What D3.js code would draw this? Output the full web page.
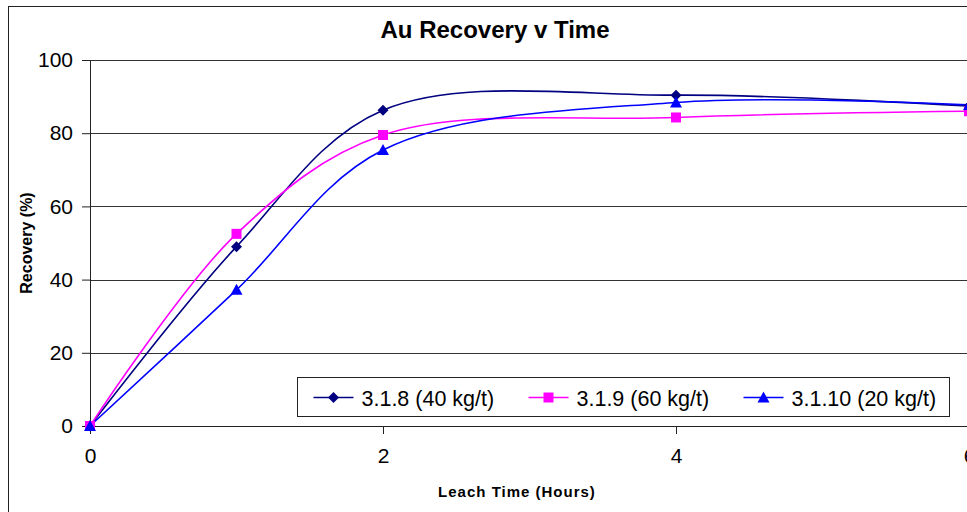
<!DOCTYPE html>
<html>
<head>
<meta charset="utf-8">
<script src="https://cdn.jsdelivr.net/npm/d3@7"></script>
<style>
  body { margin: 0; background: #fff; }
  svg { display: block; font-family: "Liberation Sans", Arial, sans-serif; }
</style>
</head>
<body>
<svg width="967" height="512"></svg>
<script>
// Leach time (hours)
var hours = [0, 1, 2, 4, 6];

// Recovery (%) per test
var rec318 = [0, 49, 86.3, 90.4, 87.4];
var rec319 = [0, 52.5, 79.5, 84.3, 86];
var rec3110 = [0, 37.2, 75.4, 88.4, 87.7];

var seriesNames = ["3.1.8 (40 kg/t)", "3.1.9 (60 kg/t)", "3.1.10 (20 kg/t)"];
var xTicks = [0, 2, 4, 6];
var yTicks = [0, 20, 40, 60, 80, 100];

var margin = {top: 60, right: -2, bottom: 86, left: 90},
    width = 967 - margin.left - margin.right,
    height = 512 - margin.top - margin.bottom;

var svg = d3.select("svg");

// chart area border
svg.append("rect")
    .attr("x", 8.5).attr("y", 6.5)
    .attr("width", 1000).attr("height", 520)
    .attr("fill", "none")
    .attr("stroke", "#222")
    .attr("stroke-width", 1);

var g = svg.append("g")
    .attr("transform", "translate(" + margin.left + "," + margin.top + ")");

var x = d3.scaleLinear().domain([0, 6]).range([0, width]);
var y = d3.scaleLinear().domain([0, 100]).range([height, 0]);

// gridlines
g.selectAll(".grid")
    .data(yTicks.filter(function(d) { return d > 0; }))
  .enter().append("line")
    .attr("x1", 0).attr("x2", width)
    .attr("y1", function(d) { return Math.round(y(d)) + 0.5; })
    .attr("y2", function(d) { return Math.round(y(d)) + 0.5; })
    .attr("stroke", "#333")
    .attr("stroke-width", 1);

// Y axis
var yAxis = d3.axisLeft(y).tickValues(yTicks).tickSize(8).tickPadding(9);
var ya = g.append("g").call(yAxis);
ya.select(".domain").attr("d", "M0.5," + (height + 8) + "V0.5").attr("stroke", "#222");
ya.selectAll(".tick line").attr("stroke", "#222");
ya.selectAll("text").style("font-size", "21px").attr("fill", "#000");

// X axis
var xAxis = d3.axisBottom(x).tickValues(xTicks).tickFormat(d3.format("d")).tickSize(8).tickPadding(14);
var xa = g.append("g").attr("transform", "translate(0," + height + ")").call(xAxis);
xa.select(".domain").attr("d", "M0," + 0.5 + "H" + width).attr("stroke", "#222");
xa.selectAll(".tick line").attr("stroke", "#222");
xa.selectAll("text").style("font-size", "21px").attr("fill", "#000");

// series
var series = [
  {name: seriesNames[0], vals: rec318, color: "#000080", marker: "diamond"},
  {name: seriesNames[1], vals: rec319, color: "#FF00FF", marker: "square"},
  {name: seriesNames[2], vals: rec3110, color: "#0000FF", marker: "triangle"}
];

var line = d3.line()
    .x(function(d) { return x(d[0]); })
    .y(function(d) { return y(d[1]); })
    .curve(d3.curveCatmullRom.alpha(0.5));

function markerPath(type) {
  if (type === "diamond") return "M0,-5.5L5.5,0L0,5.5L-5.5,0Z";
  if (type === "square") return "M-5,-5H5V5H-5Z";
  return "M0,-6L6,5H-6Z";
}

series.forEach(function(s) {
  var pts = hours.map(function(h, i) { return [h, s.vals[i]]; });
  g.append("path")
      .attr("d", line(pts))
      .attr("fill", "none")
      .attr("stroke", s.color)
      .attr("stroke-width", 1.6);
});

series.forEach(function(s) {
  var pts = hours.map(function(h, i) { return [h, s.vals[i]]; });
  g.selectAll(null)
      .data(pts)
    .enter().append("path")
      .attr("transform", function(d) { return "translate(" + x(d[0]) + "," + y(d[1]) + ")"; })
      .attr("d", markerPath(s.marker))
      .attr("fill", s.color);
});

// legend
var legend = svg.append("g").attr("transform", "translate(297.5,377.5)");
legend.append("rect")
    .attr("width", 652).attr("height", 39)
    .attr("fill", "#fff")
    .attr("stroke", "#222");

var legendX = [16, 231, 446];
series.forEach(function(s, i) {
  var it = legend.append("g").attr("transform", "translate(" + legendX[i] + ",20)");
  it.append("line").attr("x1", 0).attr("x2", 40).attr("y1", 0).attr("y2", 0)
      .attr("stroke", s.color).attr("stroke-width", 1.6);
  it.append("path").attr("transform", "translate(20,0)")
      .attr("d", markerPath(s.marker)).attr("fill", s.color);
  it.append("text").attr("x", 48).attr("y", 8)
      .style("font-size", "21.5px")
      .text(s.name);
});

// title
svg.append("text")
    .attr("x", 495).attr("y", 38)
    .attr("text-anchor", "middle")
    .style("font-size", "24px")
    .style("font-weight", "bold")
    .text("Au Recovery v Time");

// axis labels
svg.append("text")
    .attr("x", 517).attr("y", 497)
    .attr("text-anchor", "middle")
    .style("font-size", "15px")
    .style("font-weight", "bold")
    .style("letter-spacing", "1px")
    .text("Leach Time (Hours)");

svg.append("text")
    .attr("transform", "translate(32,243) rotate(-90)")
    .attr("text-anchor", "middle")
    .style("font-size", "16px")
    .style("font-weight", "bold")
    .text("Recovery (%)");
</script>
</body>
</html>
